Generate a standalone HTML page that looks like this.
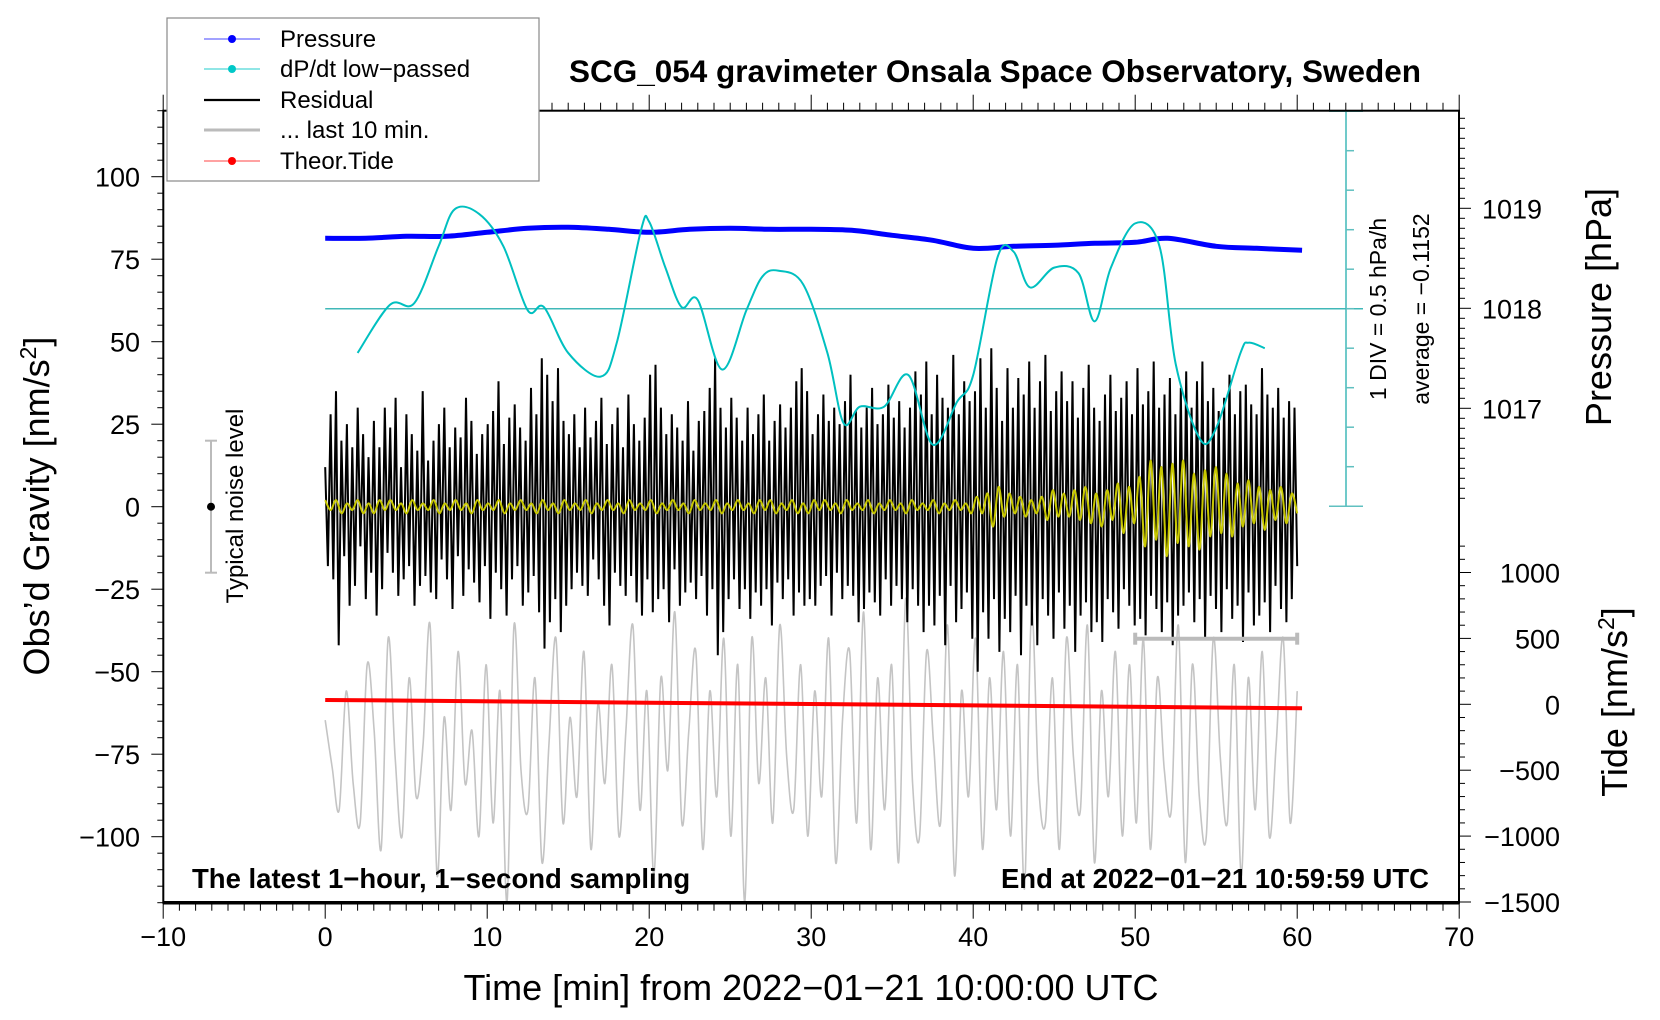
<!DOCTYPE html>
<html><head><meta charset="utf-8"><style>
html,body{margin:0;padding:0;background:#fff}
svg{display:block;font-family:"Liberation Sans",sans-serif}
</style></head><body>
<svg id="chart" width="1660" height="1020" viewBox="0 0 1660 1020" xmlns="http://www.w3.org/2000/svg">
<rect x="0" y="0" width="1660" height="1020" fill="#fff"/>
<g id="marks"></g>
<g id="axes"></g>
<text x="995" y="82" font-size="31.5" font-weight="bold" text-anchor="middle">SCG_054 gravimeter Onsala Space Observatory, Sweden</text>
<text x="192" y="888" font-size="27.5" font-weight="bold">The latest 1−hour, 1−second sampling</text>
<text x="1429" y="888" font-size="27.5" font-weight="bold" text-anchor="end">End at 2022−01−21 10:59:59 UTC</text>
<text x="811" y="1000" font-size="36" text-anchor="middle">Time [min] from 2022−01−21 10:00:00 UTC</text>
<text transform="translate(49,506) rotate(-90)" font-size="36" text-anchor="middle">Obs’d Gravity [nm/s<tspan font-size="23" dy="-13">2</tspan><tspan dy="13">]</tspan></text>
<text transform="translate(1611,307) rotate(-90)" font-size="36" text-anchor="middle">Pressure [hPa]</text>
<text transform="translate(1627,702) rotate(-90)" font-size="36" text-anchor="middle">Tide [nm/s<tspan font-size="23" dy="-13">2</tspan><tspan dy="13">]</tspan></text>
<text transform="translate(1386,309) rotate(-90)" font-size="23" text-anchor="middle">1 DIV = 0.5 hPa/h</text>
<text transform="translate(1429,309) rotate(-90)" font-size="23" text-anchor="middle">average = −0.1152</text>
<text transform="translate(243,506) rotate(-90)" font-size="24" text-anchor="middle">Typical noise level</text>
<g>
<rect x="167" y="18" width="372" height="163" fill="#fff" stroke="#888" stroke-width="1.2"/>
<g><line x1="204" y1="39" x2="260" y2="39" stroke="#4444ff" stroke-width="1"/><circle cx="232" cy="39" r="4" fill="#0000ff"/><text x="280" y="47" font-size="24">Pressure</text></g>
<g><line x1="204" y1="69" x2="260" y2="69" stroke="#22cccc" stroke-width="1"/><circle cx="232" cy="69" r="4" fill="#00c8c8"/><text x="280" y="77" font-size="24">dP/dt low−passed</text></g>
<g><line x1="204" y1="100" x2="260" y2="100" stroke="#000" stroke-width="2.2"/><text x="280" y="108" font-size="24">Residual</text></g>
<g><line x1="204" y1="130" x2="260" y2="130" stroke="#bbb" stroke-width="3"/><text x="280" y="138" font-size="24">... last 10 min.</text></g>
<g><line x1="204" y1="161" x2="260" y2="161" stroke="#ff4444" stroke-width="1"/><circle cx="232" cy="161" r="4" fill="#ff0000"/><text x="280" y="169" font-size="24">Theor.Tide</text></g>
</g>
</svg>
<script>
// ---- data ----
const xTicks=[-10,0,10,20,30,40,50,60,70];
const gravTicks=[100,75,50,25,0,-25,-50,-75,-100];
const pressTicks=[1019,1018,1017];
const tideTicks=[1000,500,0,-500,-1000,-1500];
const pressTimes=[0,2.5,5,7.5,10,12.5,15,17.5,20,22.5,25,27.5,30,32.5,35,37.5,40,42.5,45,47.5,50,52,55,57.5,60.3];
const pressVals=[1018.70,1018.70,1018.72,1018.72,1018.76,1018.80,1018.81,1018.79,1018.76,1018.79,1018.80,1018.79,1018.79,1018.78,1018.73,1018.68,1018.60,1018.62,1018.63,1018.65,1018.66,1018.70,1018.62,1018.60,1018.58];
const dpTimes=[2,4,5.5,7,8,9.5,11,12.5,13.5,15,17,18,19.5,20,21,22,23,24.5,26,27,28,29.5,31,32,33,34.5,36,37.5,39,40,41.5,42.5,43.5,45,46.5,47.5,48.5,50,51.5,52.5,54,55,56.5,57,58];
const dpVals=[-0.56,0.05,0.07,0.79,1.26,1.20,0.79,-0.02,0.02,-0.56,-0.86,-0.43,1.00,1.10,0.52,0.02,0.11,-0.77,-0.02,0.41,0.48,0.31,-0.56,-1.45,-1.24,-1.24,-0.84,-1.72,-1.18,-0.84,0.65,0.72,0.27,0.52,0.45,-0.16,0.52,1.08,0.79,-0.70,-1.65,-1.51,-0.56,-0.43,-0.50];
const tideTimes=[0,20,40,60.3];
const tideVals=[33,12,-8,-30];
const residualVals=[
12,-18,28,-22,35,-42,20,-15,25,-30,18,-24,30,-12,22,-28,15,-20,26,-33,
18,-25,30,-14,24,-20,33,-27,12,-22,28,-18,22,-30,17,-24,35,-21,14,-26,
20,-28,25,-16,30,-22,18,-31,24,-15,21,-27,33,-19,26,-23,16,-29,22,-18,
25,-34,29,-20,38,-25,19,-33,27,-22,31,-18,24,-30,20,-26,36,-21,28,-32,
45,-43,40,-35,32,-28,42,-38,26,-30,22,-25,28,-20,18,-24,30,-27,21,-16,
26,-22,33,-30,19,-36,25,-20,30,-24,18,-27,34,-21,25,-29,20,-33,27,-22,
40,-32,43,-28,30,-25,22,-35,28,-19,24,-30,20,-26,32,-23,17,-28,26,-21,
29,-33,36,-25,45,-45,30,-38,24,-28,33,-22,27,-31,20,-25,30,-34,22,-26,
28,-30,34,-25,20,-36,26,-23,31,-28,24,-22,30,-33,38,-26,42,-30,35,-28,
22,-30,28,-24,34,-21,26,-33,30,-20,25,-28,32,-24,40,-27,29,-35,24,-31,
30,-26,36,-29,25,-33,28,-22,37,-30,27,-24,32,-28,24,-35,30,-25,41,-30,
34,-38,44,-30,28,-36,40,-27,33,-42,30,-24,46,-35,28,-31,38,-26,32,-40,
35,-50,45,-32,30,-40,48,-28,36,-44,26,-34,42,-38,30,-27,39,-45,34,-30,
44,-36,30,-42,38,-28,46,-33,29,-40,35,-26,41,-37,32,-30,38,-44,27,-33,
36,-29,43,-38,30,-35,26,-41,34,-28,40,-32,29,-37,33,-25,38,-30,28,-36,
42,-34,31,-39,35,-27,44,-31,30,-38,34,-29,39,-42,28,-33,36,-30,41,-26,
30,-35,38,-28,44,-40,32,-27,36,-31,29,-38,33,-25,40,-34,28,-30,35,-41,
37,-26,31,-36,28,-33,42,-29,34,-38,30,-24,36,-31,27,-35,32,-28,30,-18];
const yellowVals=[
2,-1,2,-2,1,-1,2,-2,1,-2,2,-1,2,-1,1,-2,2,-1,1,-1,
2,-2,1,-1,2,-1,1,-2,2,-1,1,-1,2,-2,1,-1,2,-1,1,-2,
2,-1,1,-2,2,-1,1,-1,2,-2,1,-1,2,-1,1,-2,2,-1,1,-1,
2,-2,1,-1,2,-1,1,-2,2,-1,1,-1,2,-2,1,-1,2,-1,1,-2,
2,-1,2,-2,1,-1,2,-2,1,-2,2,-1,2,-1,1,-2,2,-1,1,-1,
2,-2,1,-1,2,-1,1,-2,2,-1,1,-1,2,-2,1,-1,2,-1,1,-2,
3,-2,4,-6,6,-3,4,-2,3,-3,2,-2,3,-4,5,-3,4,-3,5,-4,
6,-5,4,-6,5,-4,7,-8,6,-5,9,-12,14,-10,12,-15,13,-11,14,-12,
10,-13,11,-9,12,-8,10,-9,7,-6,8,-5,6,-7,5,-4,6,-5,4,-2];
const greyVals=[
-120,-480,-800,100,-600,-900,300,-200,-1100,500,-400,-1000,200,-700,-300,600,-1300,-100,-800,400,
-600,-200,-1000,300,-900,100,-1500,600,-500,-800,200,-1200,-300,500,-900,-100,-700,400,-1100,0,
-600,300,-1000,-200,600,-800,100,-1300,200,-500,700,-900,-200,400,-1100,100,-700,500,-1000,300,
-1500,500,-600,200,-900,600,-400,-800,300,-1000,100,-700,500,-1200,-100,400,-900,700,-1100,200,
-800,300,-1200,800,-600,-1000,400,-300,-900,600,-1300,100,-700,500,-1100,200,-800,400,-1000,300,
-1400,700,-600,-900,200,-1100,500,-400,-800,600,-1200,100,-700,400,-1000,300,-900,500,-1100,200,
-500,-800,600,-1200,300,-700,-1000,500,-400,-900,300,-1300,200,-800,400,-1000,-300,500,-900,100];
// ---- scales ----
const X0=325.2,PX=16.2;
const xs=t=>X0+t*PX;
const yG=v=>506.7-v*3.3;
const yP=p=>308.3-(p-1018)*100;
const yT=v=>704.3-v*0.1318;
const yD=d=>308.7-(d/0.5)*39.5;
const NS="http://www.w3.org/2000/svg";
const marks=document.getElementById('marks'),axes=document.getElementById('axes');
function mk(tag,attrs,parent){const e=document.createElementNS(NS,tag);for(const k in attrs)e.setAttribute(k,attrs[k]);parent.appendChild(e);return e;}
function smooth(pts){let d=`M${pts[0][0]},${pts[0][1]}`;for(let i=0;i<pts.length-1;i++){const p0=pts[Math.max(0,i-1)],p1=pts[i],p2=pts[i+1],p3=pts[Math.min(pts.length-1,i+2)];d+=` C${p1[0]+(p2[0]-p0[0])/6},${p1[1]+(p2[1]-p0[1])/6} ${p2[0]-(p3[0]-p1[0])/6},${p2[1]-(p3[1]-p1[1])/6} ${p2[0]},${p2[1]}`;}return d;}
// grey
let gp=greyVals.map((v,i)=>[xs(i*60/(greyVals.length-1)),yT(v)]);
let e=mk('path',{d:smooth(gp),fill:'none',stroke:'#c4c4c4','stroke-width':1.6},marks);


// residual
let rp=residualVals.map((v,i)=>xs(i*60/(residualVals.length-1)).toFixed(1)+','+yG(v).toFixed(1));
e=mk('polyline',{points:rp.join(' '),fill:'none',stroke:'#000','stroke-width':2,'stroke-linejoin':'miter','stroke-miterlimit':2},marks);


// yellow
let yp=yellowVals.map((v,i)=>[xs(i*60/(yellowVals.length-1)),yG(v)]);
e=mk('path',{d:smooth(yp),fill:'none',stroke:'#c8c800','stroke-width':2},marks);


// red tide
let tp=tideTimes.map((t,i)=>xs(t)+','+yT(tideVals[i]));
e=mk('polyline',{points:tp.join(' '),fill:'none',stroke:'#ff0000','stroke-width':4},marks);


// pressure
let pp=pressTimes.map((t,i)=>[xs(t),yP(pressVals[i])]);
e=mk('path',{d:smooth(pp),fill:'none',stroke:'#0000ff','stroke-width':5},marks);


// dP/dt axis and curve
e=mk('line',{x1:xs(0),y1:yD(0),x2:1363,y2:yD(0),stroke:'#40b8b8','stroke-width':1.5},marks);


e=mk('line',{x1:1346,y1:111,x2:1346,y2:507,stroke:'#40b8b8','stroke-width':1.5},marks);


for(let k=-5;k<=5;k++){const y=yD(k*0.5);const w=(k===-5||k===5)?17:8;mk('line',{x1:(k===-5||k===5)?1329:1346,y1:y,x2:1346+w,y2:y,stroke:'#60c0c0','stroke-width':1.5},marks);}
let dp=dpTimes.map((t,i)=>[xs(t),yD(dpVals[i])]);
e=mk('path',{d:smooth(dp),fill:'none',stroke:'#00c0c0','stroke-width':2},marks);


// noise marker
e=mk('g',{},marks);


mk('line',{x1:211,y1:yG(20),x2:211,y2:yG(-20),stroke:'#bbb','stroke-width':2},e);
mk('line',{x1:205,y1:yG(20),x2:217,y2:yG(20),stroke:'#bbb','stroke-width':2},e);
mk('line',{x1:205,y1:yG(-20),x2:217,y2:yG(-20),stroke:'#bbb','stroke-width':2},e);
mk('circle',{cx:211,cy:yG(0),r:4,fill:'#000'},e);
// last 10 min bar
e=mk('g',{},marks);


mk('line',{x1:xs(50),y1:yG(-40),x2:xs(60),y2:yG(-40),stroke:'#bbb','stroke-width':4},e);
mk('line',{x1:xs(50),y1:yG(-40)-6,x2:xs(50),y2:yG(-40)+6,stroke:'#bbb','stroke-width':4},e);
mk('line',{x1:xs(60),y1:yG(-40)-6,x2:xs(60),y2:yG(-40)+6,stroke:'#bbb','stroke-width':4},e);
// frame
const L=163.3,R=1459,T=110.7,B=902.7;
e=mk('rect',{x:L,y:T,width:R-L,height:B-T,fill:'none',stroke:'#000','stroke-width':2},axes);


mk('line',{x1:L,y1:B,x2:R,y2:B,stroke:'#000','stroke-width':3.5},axes);
for(let t=-10;t<=70;t++){const x=xs(t);const maj=t%10===0;const len=maj?16:8;
 mk('line',{x1:x,y1:B,x2:x,y2:B+len,stroke:'#000','stroke-width':1},axes);
 mk('line',{x1:x,y1:T,x2:x,y2:T-len,stroke:'#000','stroke-width':1},axes);}
xTicks.forEach(t=>{const tx=mk('text',{x:xs(t),y:946,'font-size':27,'text-anchor':'middle'},axes);tx.textContent=String(t).replace('-','−');
 
 });
for(let v=-120;v<=120;v+=5){const y=yG(v);const maj=v%25===0;mk('line',{x1:L,y1:y,x2:L-(maj?12:6),y2:y,stroke:'#000','stroke-width':1},axes);}
gravTicks.forEach(v=>{const tx=mk('text',{x:140,y:yG(v)+10,'font-size':27,'text-anchor':'end'},axes);tx.textContent=String(v).replace('-','−');
 
 });
for(let p=1016.0;p<=1019.97;p+=0.1){const y=yP(p);if(y<T||y>507)continue;const maj=Math.abs(p-Math.round(p))<0.01;mk('line',{x1:R,y1:y,x2:R+(maj?12:6),y2:y,stroke:'#000','stroke-width':1},axes);}
pressTicks.forEach(p=>{const tx=mk('text',{x:1482,y:yP(p)+10,'font-size':27},axes);tx.textContent=p;
 
 });
for(let v=-1500;v<=1200;v+=100){const y=yT(v);if(y<530||y>B)continue;const maj=v%500===0;mk('line',{x1:R,y1:y,x2:R+(maj?12:6),y2:y,stroke:'#000','stroke-width':1},axes);}
tideTicks.forEach(v=>{const tx=mk('text',{x:1560,y:yT(v)+10,'font-size':27,'text-anchor':'end'},axes);tx.textContent=String(v).replace('-','−');
 
 });
</script>
</body></html>
